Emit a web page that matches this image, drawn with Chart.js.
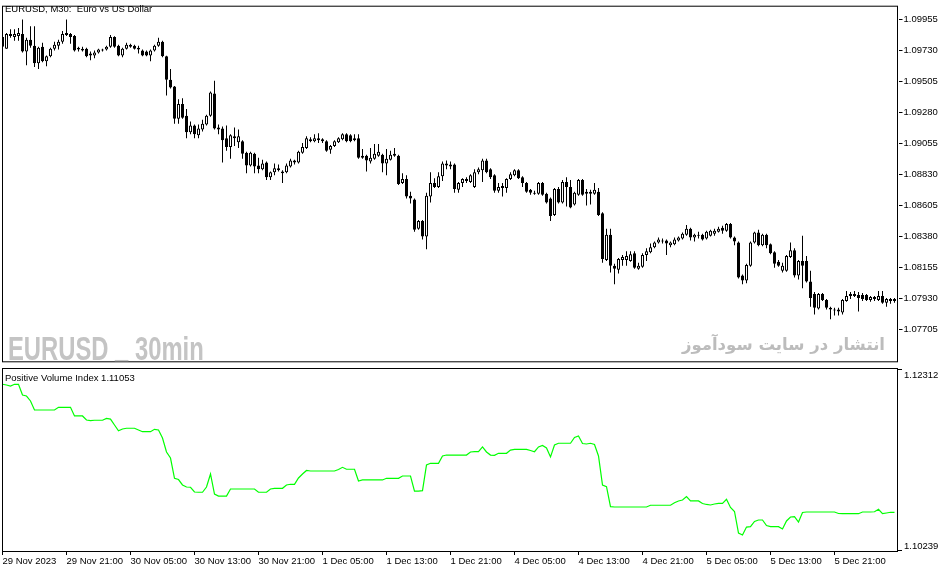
<!DOCTYPE html>
<html>
<head>
<meta charset="utf-8">
<script src="https://cdn.jsdelivr.net/npm/chart.js@4.4.1/dist/chart.umd.min.js"></script>
<style>
  html, body { margin: 0; padding: 0; background: #fff; }
  #wrap { position: relative; width: 951px; height: 572px; overflow: hidden; font-family: "Liberation Sans", Arial, sans-serif; }
  #top { position: absolute; left: 0; top: 0; }
  #bottom { position: absolute; left: 0; top: 368px; }
  .txt { position: absolute; font-size: 9.5px; color: #000; white-space: nowrap; line-height: 11px; }
  #mark1 { position: absolute; left: 8px; top: 331px; font-family: "Liberation Sans", sans-serif; font-weight: bold; font-size: 34px; line-height: 34px; color: #c4c4c4; white-space: nowrap; transform: scaleX(0.7); transform-origin: left top; }
  #mark1 span { position: relative; top: -3px; }
  #mark2 { position: absolute; right: 66px; top: 333px; font-family: "DejaVu Sans", sans-serif; font-weight: bold; font-size: 16.5px; line-height: 24px; color: #bcbcbc; white-space: nowrap; direction: rtl; }
</style>
</head>
<body>
<div id="wrap">
  <canvas id="top" width="951" height="368"></canvas>
  <canvas id="bottom" width="951" height="204"></canvas>
  <div class="txt" style="left:5px;top:3px;">EURUSD, M30:&nbsp; Euro vs US Dollar</div>
  <div id="mark1">EURUSD <span>_</span> 30min</div>
  <div id="mark2">انتشار در سایت سودآموز</div>
  <div class="txt" style="left:5px;top:372px;">Positive Volume Index 1.11053</div>
</div>
<script>
// EURUSD M30, 29 Nov 13:00 -> 6 Dec, one entry per bar
const openP = [
  1.09826,1.09741,1.09847,1.09826,1.09833,1.09847,1.09720,1.09805,1.09762,1.09635,1.09755,1.09649,1.09685,1.09741,1.09762,1.09791,
  1.09854,1.09847,1.09833,1.09748,1.09727,1.09741,1.09706,1.09692,1.09713,1.09727,1.09734,1.09755,1.09826,1.09762,1.09692,1.09741,
  1.09755,1.09762,1.09748,1.09727,1.09720,1.09692,1.09727,1.09762,1.09791,1.09685,1.09515,1.09466,1.09233,1.09339,1.09254,1.09134,
  1.09183,1.09113,1.09155,1.09190,1.09254,1.09416,1.09169,1.09162,1.09092,1.09028,1.09106,1.09063,1.09070,1.08986,1.08894,1.08979,
  1.08894,1.08866,1.08915,1.08809,1.08844,1.08873,1.08851,1.08844,1.08887,1.08929,1.08915,1.08986,1.09021,1.09070,1.09070,1.09092,
  1.09084,1.09070,1.09007,1.09035,1.09063,1.09084,1.09120,1.09113,1.09092,1.09092,1.08950,1.08964,1.08922,1.08943,1.08964,1.08971,
  1.08908,1.08936,1.08979,1.08964,1.08767,1.08795,1.08675,1.08647,1.08435,1.08491,1.08378,1.08668,1.08767,1.08738,1.08816,1.08908,
  1.08901,1.08901,1.08717,1.08767,1.08795,1.08774,1.08738,1.08844,1.08859,1.08929,1.08866,1.08823,1.08710,1.08745,1.08731,1.08795,
  1.08823,1.08859,1.08809,1.08767,1.08717,1.08689,1.08689,1.08767,1.08689,1.08654,1.08534,1.08724,1.08625,1.08774,1.08738,1.08611,
  1.08682,1.08788,1.08689,1.08689,1.08689,1.08703,1.08548,1.08209,1.08392,1.08166,1.08138,1.08209,1.08209,1.08202,1.08258,1.08145,
  1.08159,1.08244,1.08265,1.08301,1.08336,1.08343,1.08350,1.08315,1.08322,1.08350,1.08364,1.08392,1.08435,1.08371,1.08392,1.08392,
  1.08364,1.08385,1.08399,1.08414,1.08442,1.08421,1.08470,1.08371,1.08336,1.08096,1.08060,1.08166,1.08336,1.08407,1.08315,1.08392,
  1.08322,1.08265,1.08195,1.08131,1.08131,1.08230,1.08279,1.08096,1.08202,1.08202,1.08053,1.07962,1.07856,1.07962,1.07919,1.07863,
  1.07849,1.07835,1.07828,1.07912,1.07947,1.07962,1.07954,1.07954,1.07954,1.07919,1.07940,1.07919,1.07947,1.07898,1.07926,1.07912
];
const highP = [
  1.09840,1.09854,1.09882,1.09882,1.09890,1.09953,1.09819,1.09904,1.09904,1.09755,1.09784,1.09692,1.09748,1.09791,1.09805,1.09868,
  1.09953,1.09854,1.09840,1.09755,1.09755,1.09748,1.09720,1.09727,1.09741,1.09741,1.09762,1.09840,1.09830,1.09769,1.09748,1.09784,
  1.09777,1.09769,1.09762,1.09734,1.09727,1.09734,1.09769,1.09819,1.09798,1.09690,1.09593,1.09470,1.09374,1.09381,1.09303,1.09212,
  1.09190,1.09190,1.09226,1.09261,1.09431,1.09508,1.09190,1.09176,1.09183,1.09120,1.09169,1.09155,1.09077,1.08993,1.08993,1.08986,
  1.08950,1.08936,1.08922,1.08851,1.08908,1.08901,1.08859,1.08908,1.08943,1.08936,1.09000,1.09056,1.09106,1.09099,1.09120,1.09127,
  1.09092,1.09077,1.09042,1.09077,1.09099,1.09127,1.09127,1.09120,1.09120,1.09120,1.09014,1.08971,1.09021,1.09049,1.09049,1.08979,
  1.09014,1.09000,1.09021,1.08971,1.08837,1.08823,1.08703,1.08654,1.08498,1.08498,1.08696,1.08844,1.08802,1.08844,1.08922,1.08929,
  1.08922,1.08908,1.08774,1.08802,1.08809,1.08830,1.08866,1.08880,1.08943,1.08943,1.08873,1.08830,1.08767,1.08767,1.08802,1.08844,
  1.08866,1.08866,1.08816,1.08774,1.08724,1.08710,1.08774,1.08774,1.08696,1.08661,1.08731,1.08738,1.08788,1.08809,1.08788,1.08703,
  1.08795,1.08795,1.08724,1.08717,1.08767,1.08731,1.08555,1.08435,1.08435,1.08181,1.08223,1.08244,1.08272,1.08272,1.08272,1.08188,
  1.08258,1.08294,1.08329,1.08343,1.08371,1.08364,1.08357,1.08343,1.08371,1.08378,1.08407,1.08463,1.08442,1.08399,1.08414,1.08399,
  1.08421,1.08428,1.08435,1.08449,1.08456,1.08477,1.08477,1.08378,1.08343,1.08103,1.08181,1.08343,1.08414,1.08428,1.08399,1.08399,
  1.08329,1.08272,1.08209,1.08188,1.08244,1.08336,1.08294,1.08209,1.08385,1.08237,1.08131,1.07976,1.07969,1.07969,1.07926,1.07870,
  1.07863,1.07863,1.07926,1.07983,1.07976,1.07983,1.07976,1.07969,1.07962,1.07947,1.07947,1.07983,1.07983,1.07933,1.07933,1.07933
];
const lowP = [
  1.09748,1.09741,1.09819,1.09798,1.09798,1.09713,1.09621,1.09748,1.09607,1.09593,1.09642,1.09614,1.09678,1.09727,1.09734,1.09777,
  1.09833,1.09777,1.09720,1.09720,1.09720,1.09678,1.09656,1.09671,1.09706,1.09720,1.09727,1.09748,1.09748,1.09685,1.09678,1.09734,
  1.09748,1.09734,1.09706,1.09685,1.09685,1.09649,1.09720,1.09755,1.09678,1.09402,1.09452,1.09197,1.09197,1.09233,1.09092,1.09120,
  1.09092,1.09092,1.09141,1.09183,1.09247,1.09155,1.09120,1.08915,1.09000,1.08943,1.09035,1.09021,1.08943,1.08837,1.08887,1.08837,
  1.08837,1.08859,1.08788,1.08788,1.08823,1.08851,1.08767,1.08837,1.08880,1.08901,1.08908,1.08979,1.09014,1.09063,1.09063,1.09056,
  1.09056,1.08993,1.08979,1.09028,1.09056,1.09077,1.09063,1.09063,1.09070,1.08943,1.08943,1.08851,1.08908,1.08936,1.08957,1.08844,
  1.08823,1.08929,1.08957,1.08753,1.08760,1.08654,1.08618,1.08414,1.08428,1.08357,1.08286,1.08625,1.08731,1.08731,1.08781,1.08866,
  1.08866,1.08696,1.08696,1.08738,1.08767,1.08767,1.08731,1.08830,1.08774,1.08837,1.08795,1.08696,1.08696,1.08668,1.08696,1.08788,
  1.08816,1.08795,1.08738,1.08696,1.08682,1.08682,1.08682,1.08675,1.08618,1.08491,1.08527,1.08618,1.08618,1.08597,1.08583,1.08604,
  1.08675,1.08675,1.08604,1.08611,1.08682,1.08527,1.08188,1.08202,1.08117,1.08032,1.08110,1.08166,1.08166,1.08195,1.08145,1.08138,
  1.08152,1.08202,1.08258,1.08294,1.08329,1.08329,1.08244,1.08301,1.08315,1.08343,1.08357,1.08385,1.08350,1.08343,1.08364,1.08350,
  1.08357,1.08378,1.08385,1.08407,1.08399,1.08414,1.08364,1.08315,1.08075,1.08032,1.08039,1.08159,1.08329,1.08308,1.08308,1.08294,
  1.08251,1.08152,1.08159,1.08117,1.08124,1.08223,1.08082,1.08067,1.08004,1.08046,1.07870,1.07813,1.07849,1.07912,1.07849,1.07778,
  1.07806,1.07806,1.07813,1.07905,1.07926,1.07940,1.07835,1.07912,1.07912,1.07905,1.07912,1.07912,1.07891,1.07870,1.07891,1.07898
];
const closeP = [
  1.09755,1.09847,1.09833,1.09847,1.09854,1.09720,1.09805,1.09762,1.09635,1.09748,1.09649,1.09685,1.09741,1.09769,1.09791,1.09847,
  1.09840,1.09826,1.09727,1.09734,1.09741,1.09685,1.09692,1.09713,1.09734,1.09734,1.09755,1.09826,1.09755,1.09692,1.09741,1.09769,
  1.09769,1.09741,1.09734,1.09692,1.09692,1.09727,1.09762,1.09791,1.09685,1.09515,1.09459,1.09233,1.09339,1.09240,1.09134,1.09183,
  1.09120,1.09162,1.09197,1.09254,1.09423,1.09162,1.09155,1.09077,1.09028,1.09113,1.09092,1.09106,1.08979,1.08894,1.08986,1.08887,
  1.08866,1.08908,1.08809,1.08844,1.08873,1.08859,1.08837,1.08894,1.08929,1.08915,1.08993,1.09028,1.09092,1.09084,1.09092,1.09077,
  1.09070,1.09000,1.09035,1.09070,1.09092,1.09120,1.09070,1.09070,1.09077,1.08950,1.08964,1.08929,1.08950,1.08979,1.08993,1.08908,
  1.08943,1.08971,1.08964,1.08760,1.08795,1.08668,1.08654,1.08428,1.08491,1.08378,1.08675,1.08767,1.08738,1.08816,1.08908,1.08894,
  1.08887,1.08724,1.08767,1.08795,1.08781,1.08823,1.08844,1.08866,1.08929,1.08844,1.08809,1.08710,1.08738,1.08731,1.08795,1.08830,
  1.08859,1.08802,1.08767,1.08703,1.08696,1.08696,1.08767,1.08682,1.08625,1.08527,1.08724,1.08625,1.08774,1.08738,1.08590,1.08696,
  1.08788,1.08682,1.08703,1.08703,1.08717,1.08534,1.08216,1.08392,1.08166,1.08145,1.08216,1.08230,1.08237,1.08251,1.08152,1.08166,
  1.08244,1.08272,1.08301,1.08336,1.08357,1.08350,1.08329,1.08336,1.08357,1.08371,1.08399,1.08435,1.08371,1.08392,1.08385,1.08357,
  1.08414,1.08421,1.08421,1.08435,1.08421,1.08470,1.08371,1.08343,1.08082,1.08060,1.08173,1.08336,1.08407,1.08315,1.08392,1.08315,
  1.08258,1.08181,1.08166,1.08166,1.08237,1.08279,1.08096,1.08202,1.08166,1.08053,1.07933,1.07863,1.07962,1.07919,1.07863,1.07849,
  1.07842,1.07849,1.07919,1.07947,1.07962,1.07947,1.07933,1.07926,1.07919,1.07940,1.07926,1.07947,1.07898,1.07926,1.07912,1.07926
];
// Positive Volume Index, same bars
const pvi = [
  1.12138,1.12130,1.12118,1.12138,1.12138,1.12016,1.12004,1.11948,1.11845,1.11845,1.11845,1.11845,1.11845,1.11845,1.11876,1.11876,
  1.11876,1.11876,1.11777,1.11777,1.11777,1.11731,1.11725,1.11728,1.11728,1.11728,1.11750,1.11742,1.11674,1.11609,1.11629,1.11637,
  1.11637,1.11637,1.11617,1.11598,1.11598,1.11598,1.11625,1.11617,1.11526,1.11367,1.11298,1.11067,1.11053,1.10991,1.10968,1.10965,
  1.10911,1.10908,1.10908,1.10968,1.11116,1.10888,1.10865,1.10865,1.10865,1.10945,1.10945,1.10945,1.10945,1.10945,1.10945,1.10945,
  1.10908,1.10908,1.10908,1.10945,1.10953,1.10953,1.10953,1.10991,1.10999,1.10999,1.11071,1.11116,1.11156,1.11150,1.11150,1.11150,
  1.11150,1.11150,1.11150,1.11150,1.11167,1.11192,1.11170,1.11170,1.11170,1.11036,1.11048,1.11048,1.11048,1.11048,1.11048,1.11048,
  1.11067,1.11067,1.11067,1.11067,1.11093,1.11093,1.11093,1.10922,1.10922,1.10926,1.11219,1.11238,1.11238,1.11238,1.11321,1.11332,
  1.11332,1.11332,1.11332,1.11332,1.11332,1.11367,1.11370,1.11370,1.11424,1.11367,1.11332,1.11329,1.11352,1.11352,1.11352,1.11389,
  1.11397,1.11397,1.11397,1.11397,1.11384,1.11370,1.11424,1.11441,1.11412,1.11310,1.11446,1.11466,1.11466,1.11466,1.11466,1.11532,
  1.11549,1.11463,1.11458,1.11466,1.11452,1.11321,1.10991,1.10971,1.10744,1.10740,1.10740,1.10740,1.10740,1.10740,1.10740,1.10740,
  1.10740,1.10740,1.10760,1.10760,1.10760,1.10760,1.10760,1.10760,1.10789,1.10809,1.10820,1.10858,1.10809,1.10809,1.10809,1.10780,
  1.10769,1.10763,1.10774,1.10782,1.10782,1.10828,1.10735,1.10689,1.10444,1.10421,1.10512,1.10516,1.10575,1.10592,1.10592,1.10529,
  1.10516,1.10516,1.10516,1.10490,1.10581,1.10626,1.10630,1.10569,1.10678,1.10683,1.10683,1.10683,1.10683,1.10683,1.10683,1.10683,
  1.10683,1.10666,1.10664,1.10664,1.10664,1.10664,1.10664,1.10683,1.10683,1.10683,1.10686,1.10714,1.10664,1.10672,1.10680,1.10680
];
const priceTicks = [1.09955, 1.09730, 1.09505, 1.09280, 1.09055, 1.08830, 1.08605, 1.08380, 1.08155, 1.07930, 1.07705];
const pviTicks = [1.12312, 1.10239];
// one label every 16 bars (8 hours)
const timeTicks = ['29 Nov 2023', '29 Nov 21:00', '30 Nov 05:00', '30 Nov 13:00', '30 Nov 21:00', '1 Dec 05:00', '1 Dec 13:00',
  '1 Dec 21:00', '4 Dec 05:00', '4 Dec 13:00', '4 Dec 21:00', '5 Dec 05:00', '5 Dec 13:00', '5 Dec 21:00'];

const FONT = 'Liberation Sans';
// one spare slot on the right so that bars sit 4px apart
const barIndex = Array.from({ length: openP.length + 1 }, (_, i) => i);
const wicks = lowP.map((l, i) => [l, highP[i]]);
const bodies = openP.map((o, i) => [o, closeP[i]]);

// black frame around each panel, like the terminal
const frame = {
  id: 'frame',
  afterDraw(chart) {
    const c = chart.ctx, a = chart.chartArea;
    c.save();
    c.strokeStyle = '#000';
    c.lineWidth = 1;
    c.strokeRect(2.5, a.top - 0.5, 895, a.bottom - a.top + 1);
    c.restore();
  }
};

// min / max labels of the indicator window
const pviAxis = {
  id: 'pviAxis',
  afterDraw(chart) {
    const c = chart.ctx, a = chart.chartArea, y = chart.scales.y;
    c.save();
    c.fillStyle = '#000';
    c.strokeStyle = '#000';
    c.lineWidth = 1;
    c.font = '9.5px "' + FONT + '"';
    c.textBaseline = 'middle';
    pviTicks.forEach(v => {
      const py = Math.round(y.getPixelForValue(v));
      const top = py < a.top + 20;
      c.beginPath();
      c.moveTo(898, top ? py + 0.5 : py - 0.5);
      c.lineTo(902, top ? py + 0.5 : py - 0.5);
      c.stroke();
      c.fillText(v.toFixed(5), 904, top ? py + 6 : py - 5);
    });
    c.restore();
  }
};

new Chart(document.getElementById('top'), {
  type: 'bar',
  data: {
    labels: barIndex,
    datasets: [
      {
        data: bodies, order: 0, grouped: false, barThickness: 3, minBarLength: 1,
        borderWidth: 1, borderSkipped: false, borderColor: '#000', inflateAmount: 0,
        backgroundColor: ctx => closeP[ctx.dataIndex] >= openP[ctx.dataIndex] ? '#fff' : '#000'
      },
      {
        data: wicks, order: 1, grouped: false, barThickness: 1,
        borderWidth: 0, backgroundColor: '#000', inflateAmount: 0
      }
    ]
  },
  options: {
    responsive: false,
    animation: false,
    events: [],
    layout: { padding: { left: 2.5, top: 2, bottom: 2, right: 0 } },
    plugins: { legend: { display: false }, tooltip: { enabled: false } },
    scales: {
      x: { type: 'category', display: false, offset: false },
      y: {
        position: 'right',
        min: 1.07474,
        max: 1.10045,
        afterBuildTicks: s => { s.ticks = priceTicks.map(v => ({ value: v })); },
        afterFit: s => { s.width = 52.5; },
        grid: { drawOnChartArea: false, tickLength: 4, color: '#000' },
        border: { display: false },
        ticks: { color: '#000', padding: 1, font: { family: FONT, size: 9.5 }, callback: v => Number(v).toFixed(5) }
      }
    }
  },
  plugins: [frame]
});

new Chart(document.getElementById('bottom'), {
  type: 'line',
  data: {
    labels: barIndex,
    datasets: [{
      data: pvi, borderColor: '#00ff00', borderWidth: 1.2,
      pointRadius: 0, tension: 0, fill: false
    }]
  },
  options: {
    responsive: false,
    animation: false,
    events: [],
    layout: { padding: { left: 2.5, top: 1, right: 52.5, bottom: 0 } },
    plugins: { legend: { display: false }, tooltip: { enabled: false } },
    scales: {
      x: {
        type: 'category',
        offset: false,
        afterBuildTicks: s => { s.ticks = s.ticks.filter(t => t.value % 16 === 0 && t.value / 16 < timeTicks.length); },
        afterFit: s => { s.height = 21; },
        grid: { drawOnChartArea: false, tickLength: 4, color: '#000' },
        border: { display: false },
        ticks: {
          autoSkip: false, maxRotation: 0, align: 'start', padding: 1, color: '#000',
          font: { family: FONT, size: 9.5 },
          callback: v => timeTicks[v / 16]
        }
      },
      y: { display: false, min: 1.10239, max: 1.12312 }
    }
  },
  plugins: [frame, pviAxis]
});
</script>
</body>
</html>
